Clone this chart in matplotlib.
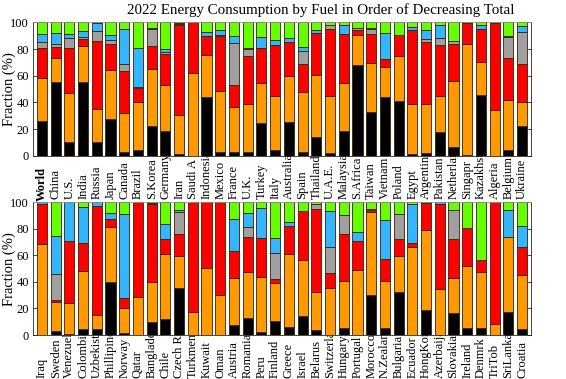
import matplotlib
matplotlib.use("Agg")
import matplotlib.pyplot as plt
import matplotlib.transforms as mtransforms
import numpy as np

plt.rcParams['font.family'] = ['Liberation Serif', 'DejaVu Serif']

# ---- data (percent of primary energy) ----
top_countries = ["World", "China", "U.S.", "India", "Russia", "Japan", "Canada", "Brazil", "S.Korea",
                 "Germany", "Iran", "Saudi A", "Indonesia", "Mexico", "France", "U.K.", "Turkey", "Italy",
                 "Australia", "Spain", "Thailand", "U.A.E.", "Malaysia", "S.Africa", "Taiwan", "Vietnam",
                 "Poland", "Egypt", "Argentina", "Pakistan", "Netherlands", "Singapr", "Kazakhstan", "Algeria",
                 "Belgium", "Ukraine"]
top_coal = [26, 55, 10, 55, 10.5, 27.3, 2.5, 4, 22.6, 18.8, 1, 0, 44.4, 2.5, 2.5, 2.5, 24.6, 4.5,
            25.6, 2.5, 13.8, 2, 18.8, 68.2, 32.6, 44.4, 41.4, 1.5, 2, 17.5, 6.3, 0.5, 45.6, 0, 4.5, 22]
top_oil = [32, 18, 37, 27, 24.5, 36.7, 29.5, 36.6, 42.4, 34.2, 29.6, 62, 31.3, 46.4, 33.8, 36.3, 29.8, 40.4,
           34, 45.6, 46.4, 42.9, 35.6, 22, 36.8, 22, 33.3, 37.3, 36.8, 27.4, 49.6, 83.5, 24.6, 34.6, 37, 18]
top_gas = [23, 8.5, 33.6, 5.7, 50.7, 20, 31.7, 10.4, 17, 23, 67.6, 38, 14, 40.6, 16.8, 35.6, 26.6, 38.3,
           25.6, 20.8, 32, 49.8, 37.1, 3.8, 21.6, 6.3, 15.5, 55.2, 46.4, 38.3, 28.1, 15.5, 25, 65.2, 32, 29]
top_nuclear = [4, 2.2, 8, 1.1, 7.5, 3, 5, 0.6, 13, 2, 0.5, 0, 0, 0.7, 31.6, 5.8, 0, 0,
               0, 9.5, 0, 3.5, 0, 1.7, 4.2, 0, 0, 0, 2, 5, 1.7, 0, 0, 0, 15.5, 24]
top_hydro = [6.5, 8, 2.4, 4.9, 6.3, 3.7, 26.3, 29, 0.5, 2, 1, 0, 2.8, 3.8, 5, 0.5, 8, 3.8,
             3, 3.1, 1.8, 0, 6.2, 0, 0.5, 19.5, 0.3, 2.5, 6.8, 9.5, 0, 0, 3, 0, 0.5, 4.5]
top_renew = [8.5, 8.3, 9, 6.3, 0.5, 9.3, 5, 19.4, 4.5, 20, 0.3, 0, 7.5, 6, 10.3, 19.3, 11, 13,
             11.8, 18.5, 6, 1.8, 2.3, 4.3, 4.3, 7.8, 9.5, 3.5, 6, 2.3, 14.3, 0.5, 1.8, 0.2, 10.5, 2.5]

bot_countries = ["Iraq", "Sweden", "Venezuela", "Colombia", "Uzbekistan", "Phillipines", "Norway", "Qatar",
                 "Bangladesh", "Chile", "Czech Rep", "Turkmenistan", "Kuwait", "Oman", "Austria", "Romania",
                 "Peru", "Finland", "Greece", "Israel", "Belarus", "Switzerland", "Hungary", "Portugal",
                 "Morocco", "N.Zealand", "Bulgaria", "Ecuador", "HongKong", "Azerbaijan", "Slovakia",
                 "Ireland", "Denmrk", "TriTob", "SriLanka", "Croatia"]
bot_coal = [0, 3, 0.5, 4.5, 4.5, 39.7, 1.5, 0, 9.5, 12.1, 35.2, 0, 0, 0, 7.5, 13.1, 2.5, 10.6,
            6.3, 14.6, 3.8, 0, 5, 0, 30.2, 5.5, 32.2, 0, 18.8, 0, 16.3, 5.5, 5.5, 0, 17, 4.5]
bot_oil = [68.3, 21.6, 23.4, 43.7, 10.6, 42, 18.6, 28.9, 30.7, 48.7, 24.6, 17.6, 50.8, 30.2, 35.2, 34.1, 41.5, 28.3,
           54.5, 41.9, 28.9, 35.7, 35.7, 49, 62.3, 35.2, 27.3, 66.6, 60.3, 34.7, 26.9, 46.8, 41.7, 8, 56.5, 40.5]
bot_gas = [30.2, 1.8, 47.2, 20.9, 82.4, 5.7, 7.5, 71.1, 58.8, 11.3, 16.1, 82.4, 49.2, 69.8, 20.6, 26.9, 28.9, 3.3,
           21.6, 37, 62.3, 10.8, 35.2, 21.9, 1.7, 16.6, 12.6, 2.5, 20.2, 63.8, 28.9, 28.1, 9.3, 92, 0, 21]
bot_nuclear = [0, 19.6, 0, 0, 0, 0, 0, 0, 0, 0, 17.1, 0, 0, 0, 0, 7.6, 0, 19.4,
               0, 0, 3.5, 20.1, 14.6, 0, 0, 0, 18.9, 0, 0, 0, 22.1, 0, 0, 0, 0, 0]
bot_hydro = [1.5, 28.9, 28.9, 27.1, 2.5, 4.3, 63.4, 0, 0.3, 11.3, 1.2, 0, 0, 0, 24.1, 10, 23.1, 11.3,
             2.5, 0, 0, 26.9, 0, 6.5, 0.5, 29.4, 0, 29.4, 0, 1.5, 0, 0.5, 0, 0, 20.5, 16]
bot_renew = [0, 25.1, 0, 3.8, 0, 8.3, 9, 0, 0.7, 16.6, 5.8, 0, 0, 0, 12.6, 8.3, 4, 27.1,
             15.1, 6.5, 1.5, 6.5, 9.5, 22.6, 5.3, 13.3, 9, 1.5, 0.7, 0, 5.8, 19.1, 43.5, 0, 6, 18]

fuel_colors = ["#000000", "#FF9900", "#FF0000", "#A0A0A0", "#33B5FF", "#66FF00"]
y_ticks = [0, 20, 40, 60, 80, 100]

W, H = 566, 379
fig = plt.figure(figsize=(W / 100, H / 100), dpi=100)

def px_axes(left, top, right, bottom):
    return fig.add_axes([left / W, 1 - bottom / H, (right - left) / W, (bottom - top) / H])

AX_L, AX_R = 33, 531
ax1 = px_axes(AX_L, 22.3, AX_R, 155.8)
ax2 = px_axes(AX_L, 202.3, AX_R, 335)

def draw(ax, names, series, label_off, bold_first=False):
    x = np.arange(1, len(names) + 1)
    bottom = np.zeros(len(names))
    for vals, col in zip(series, fuel_colors):
        v = np.array(vals, dtype=float)
        ax.bar(x, v, bottom=bottom, width=0.74, color=col, edgecolor="#3a2000",
               linewidth=0.6, zorder=2)
        bottom += v
    ax.set_xlim(0.35, 36.65)
    ax.set_ylim(0, 100)
    ax.set_yticks(y_ticks)
    ax.set_yticklabels([str(t) for t in y_ticks], fontsize=9)
    ax.set_xticks([])
    ax.tick_params(axis="y", direction="in", length=3, right=True, left=True,
                   width=0.6, color="#262626", pad=3)
    for s in ax.spines.values():
        s.set_color("#262626")
        s.set_linewidth(0.6)
    ax.spines["top"].set_color("#999999")
    ax.set_facecolor("white")
    # country labels: start below the axes, run upward, long ones hidden behind the axes
    ax_h = ax.get_position().height * H
    trans = mtransforms.blended_transform_factory(ax.transData, ax.transAxes)
    for i, name in enumerate(names):
        bold = bold_first and i == 0
        off = label_off + (2 if bold else 0)
        fig.text(x[i], -off / ax_h, name, transform=trans, rotation=90,
                 ha="center", va="bottom", fontsize=9,
                 fontweight="bold" if bold else "normal", zorder=-1)
    pos = ax.get_position()
    fig.text(9 / W, pos.y0 + pos.height / 2, "Fraction (%)", rotation=90,
             ha="center", va="center", fontsize=10.5)

draw(ax1, top_countries, [top_coal, top_oil, top_gas, top_nuclear, top_hydro, top_renew], 43.5,
     bold_first=True)
draw(ax2, bot_countries, [bot_coal, bot_oil, bot_gas, bot_nuclear, bot_hydro, bot_renew], 42.5)
fig.text(321 / W, 1 - 10 / H, "2022 Energy Consumption by Fuel in Order of Decreasing Total",
         ha="center", va="center", fontsize=10.8)

fig.savefig("out.png", dpi=100)
